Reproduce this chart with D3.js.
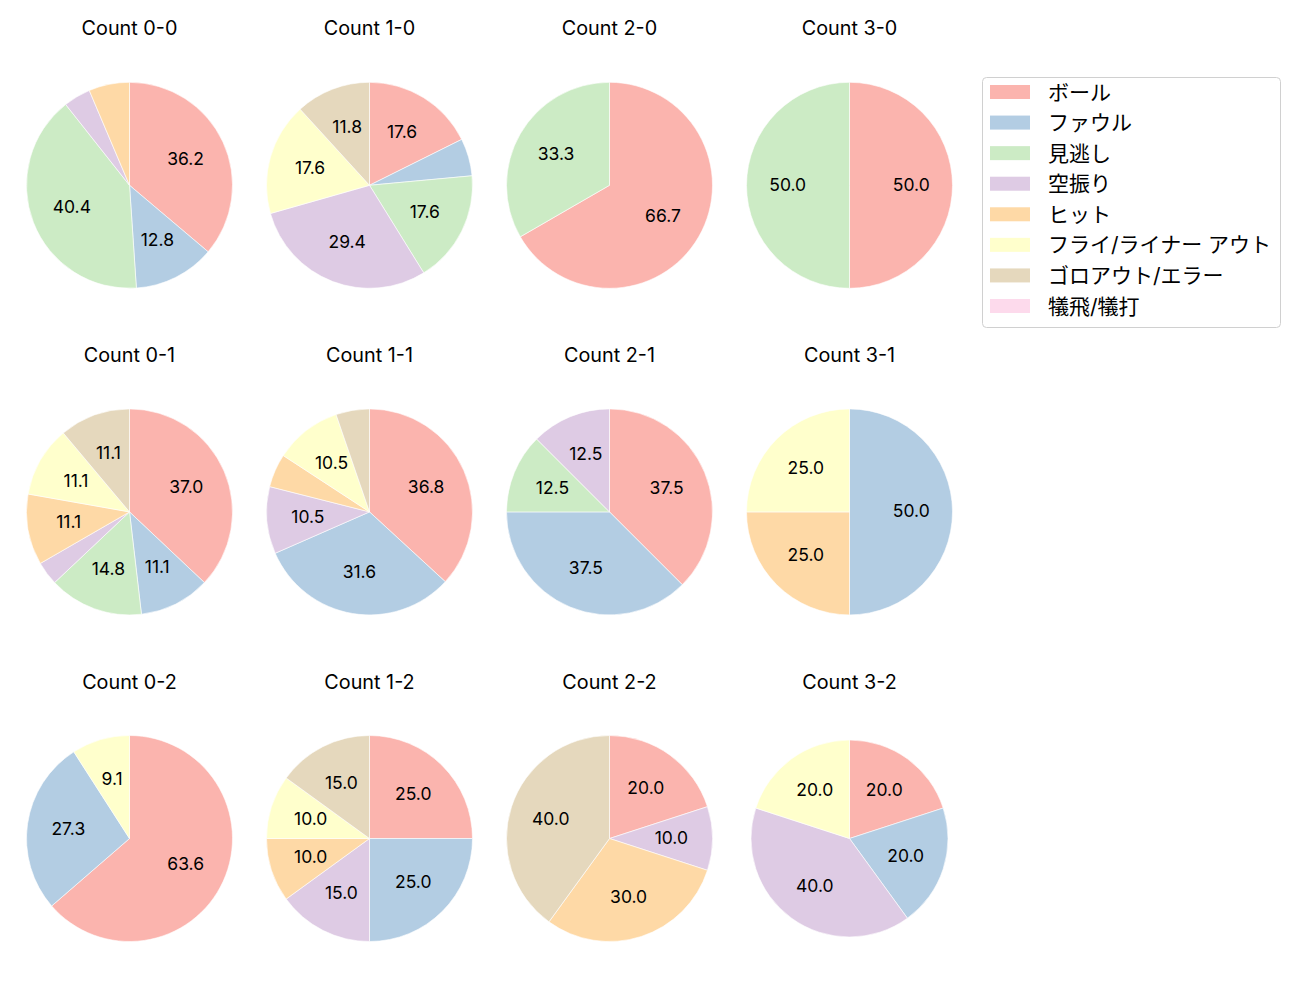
<!DOCTYPE html>
<html><head><meta charset="utf-8">
<script src="https://cdn.jsdelivr.net/npm/d3@7"></script>
<style>
body{margin:0;background:#fff;}
text{font-family:Inter,"Noto Sans CJK JP",sans-serif;fill:#000;}
</style></head>
<body><svg id="c" width="1300" height="1000"></svg>
<script>
const categories = ["ボール","ファウル","見逃し","空振り","ヒット","フライ/ライナー アウト","ゴロアウト/エラー","犠飛/犠打"];
const colors = ["#fbb4ae","#b3cde3","#ccebc5","#decbe4","#fed9a6","#ffffcc","#e5d8bd","#fddaec"];
const titles = ["Count 0-0","Count 1-0","Count 2-0","Count 3-0",
                "Count 0-1","Count 1-1","Count 2-1","Count 3-1",
                "Count 0-2","Count 1-2","Count 2-2","Count 3-2"];
// counts per category (order of categories)
const count00 = [17,6,19,2,3,0,0,0];
const count10 = [3,1,3,5,0,3,2,0];
const count20 = [2,0,1,0,0,0,0,0];
const count30 = [1,0,1,0,0,0,0,0];
const count01 = [10,3,4,1,3,3,3,0];
const count11 = [7,6,0,2,1,2,1,0];
const count21 = [3,3,1,1,0,0,0,0];
const count31 = [0,2,0,0,1,1,0,0];
const count02 = [7,3,0,0,0,1,0,0];
const count12 = [5,5,0,3,2,2,3,0];
const count22 = [2,0,0,1,3,0,4,0];
const count32 = [1,1,0,2,0,1,0,0];
const panels = [count00,count10,count20,count30,count01,count11,count21,count31,count02,count12,count22,count32];

const svg = d3.select("#c");
const colX = d3.scalePoint().domain([0,1,2,3]).range([129.5,849.5]);
const rowY = d3.scalePoint().domain([0,1,2]).range([185.3,838.5]);
const color = d3.scaleOrdinal().domain(categories).range(colors);
const pie = d3.pie().sort(null).value(d=>d.v).startAngle(0).endAngle(2*Math.PI);

panels.forEach((vals,i)=>{
  const col = i%4, row = Math.floor(i/4);
  const cx = colX(col), cy = rowY(row);
  const r = (i===11) ? 98.5 : 103;
  const total = d3.sum(vals);
  const data = vals.map((v,k)=>({v, cat:categories[k]})).filter(d=>d.v>0);
  const g = svg.append("g").attr("transform",`translate(${cx},${cy})`);
  const arc = d3.arc().innerRadius(0).outerRadius(r);
  const labelArc = d3.arc().innerRadius(r*0.6).outerRadius(r*0.6);
  const arcs = pie(data);
  g.selectAll("path").data(arcs).join("path")
    .attr("d",arc).attr("fill",d=>color(d.data.cat))
    .attr("stroke","#fff").attr("stroke-width",0.6);
  g.selectAll("text.lbl").data(arcs.filter(d=>d.data.v/total*100>=8)).join("text")
    .attr("class","lbl")
    .attr("transform",d=>{const c=labelArc.centroid(d);return `translate(${c[0]},${c[1]-1})`;})
    .attr("text-anchor","middle").attr("dominant-baseline","central")
    .style("font-size","17.5px")
    .text(d=>(d.data.v/total*100).toFixed(1));
  svg.append("text").attr("x",cx).attr("y",cy-157)
    .attr("text-anchor","middle").attr("dominant-baseline","central")
    .style("font-size","19.8px").text(titles[i]);
});

// legend
const lg = svg.append("g").attr("transform","translate(982,77)");
lg.append("rect").attr("x",0.5).attr("y",0.5).attr("width",298).attr("height",250)
  .attr("rx",4).attr("fill","#fff").attr("stroke","#d0d0d0");
const ly = d3.scaleLinear().domain([0,7]).range([15,229]);
categories.forEach((c,k)=>{
  lg.append("rect").attr("x",8).attr("y",ly(k)-7).attr("width",40).attr("height",14).attr("fill",colors[k]);
  lg.append("text").attr("x",66).attr("y",ly(k)).attr("dominant-baseline","central")
    .style("font-size","21px").text(c);
});
</script></body></html>
